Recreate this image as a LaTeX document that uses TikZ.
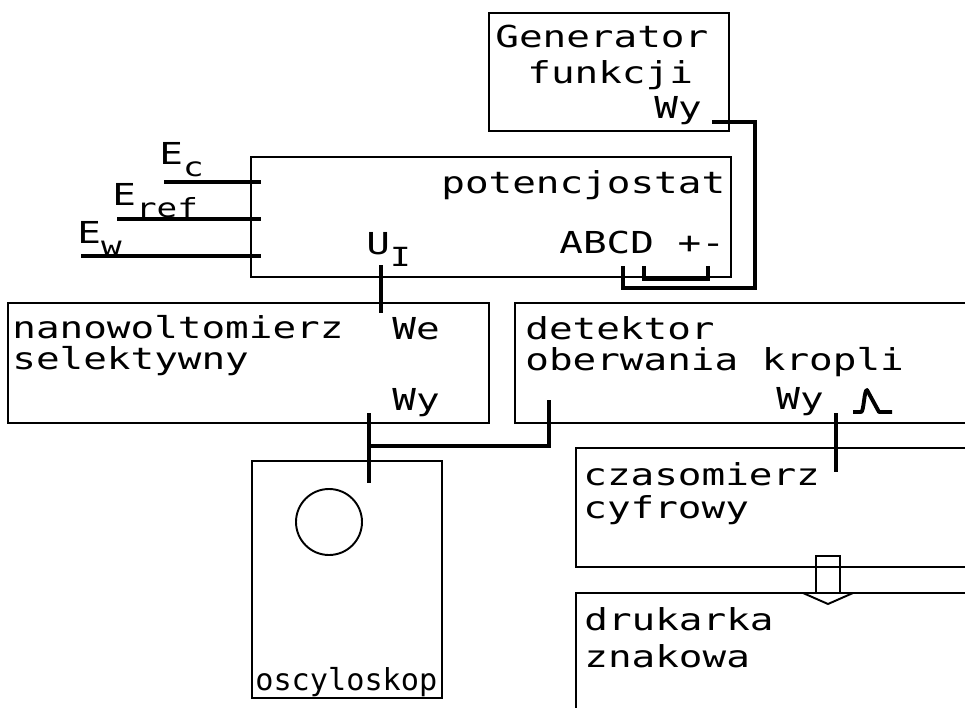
\documentclass[tikz,border=0pt]{standalone}
\usepackage{fontspec}
\usepackage{tikz}
\usetikzlibrary{calc,fit}
\newfontfamily\plotfont[FakeStretch=1.3]{DejaVu Sans Mono}
\newfontfamily\plotfontwaski{DejaVu Sans Mono}
\newcommand{\indeks}[1]{\raisebox{-2.4mm}{\fontsize{15}{15}\selectfont #1}}
\tikzset{
    blok/.style={
        draw,
        line width=1.1pt,
        inner sep=0pt
    },
    % grube linie polaczen
    przewod/.style={
        line width=2.2pt,
        black
    },
    napis/.style={
        anchor=base west,
        inner sep=0pt,
        font=\plotfont\fontsize{17.2}{20}\selectfont
    },
    napiswaski/.style={
        anchor=base west,
        inner sep=0pt,
        font=\plotfontwaski\fontsize{17.2}{20}\selectfont
    }
}

\begin{document}
\begin{tikzpicture}[x=0.2mm, y=-0.2mm]
    \useasboundingbox (0,0) rectangle (965,708);
    \clip (0,0) rectangle (965,708);

    \node[blok, fit={(489,13) (729,131)}] (gen) {};
    \node[blok, fit={(251,157) (731,277)}] (pot) {};
    \node[blok, fit={(8,303) (489,423)}] (nano) {};
    \node[blok, fit={(515,303) (990,423)}] (det) {};
    \node[blok, fit={(252,461) (442,698)}] (osc) {};
    \node[blok, fit={(576,448) (990,567)}] (czas) {};
    \node[blok, fit={(576,593) (990,730)}] (druk) {};
    \node[draw, circle, line width=1.1pt, minimum size=13.2mm, inner sep=0pt] (ekran) at (329,522) {};

    \node[napis] (gen1) at (495,47) {Generator};
    \node[napis] (gen2) at (527,83) {funkcji};
    \node[napis] (genwy) at (654,118) {Wy};
    \node[napis] (pot1) at (441,193) {potencjostat};
    \node[napis] (pot2) at (559,253) {ABCD +-};
    \node[napis] (potui) at (366,254) {U\indeks{I}};
    \node[napis] (ec) at (159,164) {E\indeks{c}};
    \node[napis] (eref) at (112,205) {E\indeks{ref}};
    \node[napis] (ew) at (77,243) {E\indeks{w}};
    \node[napis] (nano1) at (12,338) {nanowoltomierz};
    \node[napis] (nano2) at (12,369) {selektywny};
    \node[napis] (nanowe) at (392,339) {We};
    \node[napis] (nanowy) at (392,410) {Wy};
    \node[napis] (det1) at (525,339) {detektor};
    \node[napis] (det2) at (525,370) {oberwania kropli};
    \node[napis] (detwy) at (776,409) {Wy};
    \node[napis] (czas1) at (583,485) {czasomierz};
    \node[napis] (czas2) at (583,518) {cyfrowy};
    \node[napis] (druk1) at (584,630) {drukarka};
    \node[napis] (druk2) at (584,667) {znakowa};
    \node[napiswaski] (osc1) at (255,690) {oscyloskop};

    \coordinate (gen-wy) at (712,122);
    \coordinate (pot-d) at (623,266);
    \coordinate (pot-plus) at (644,266);
    \coordinate (pot-minus) at (708,266);
    \coordinate (pot-ui) at (381,265);
    \coordinate (el-c) at (164,182);
    \coordinate (el-ref) at (117,219);
    \coordinate (el-w) at (81,256);
    \coordinate (nano-wy) at (369,413);
    \coordinate (osc-we) at (369,483);
    \coordinate (wezel) at (369,446);
    \coordinate (det-we) at (549,400);
    \coordinate (det-wy) at (836,413);
    \coordinate (czas-we) at (836,472);

    \draw[przewod] (gen-wy) -| ($(pot.south east)+(23,10)$) -| (pot-d);
    \draw[przewod] (pot-plus) -- ++(0,13) -| (pot-minus);
    \draw[przewod] (el-c) -- ($(el-c -| pot.west)+(11,0)$);
    \draw[przewod] (el-ref) -- ($(el-ref -| pot.west)+(11,0)$);
    \draw[przewod] (el-w) -- ($(el-w -| pot.west)+(11,0)$);
    \draw[przewod] (pot-ui) -- ($(pot-ui |- nano.north)+(0,11)$);
    \draw[przewod] (nano-wy) -- (osc-we);
    \draw[przewod] (wezel) -| (det-we);
    \draw[przewod] (det-wy) -- (czas-we);

    % impuls
    \draw[przewod, line join=round] (853,412) -- (861,412) .. controls (864,412) and (864,390) .. (867,390) -- (879,412) -- (892,412);

    % strzalka do drukarki
    \draw[blok] (816,556) -- (840,556) -- (840,593) -- (853,593) -- (828,604) -- (803,593) -- (816,593) -- cycle;
\end{tikzpicture}
\end{document}
